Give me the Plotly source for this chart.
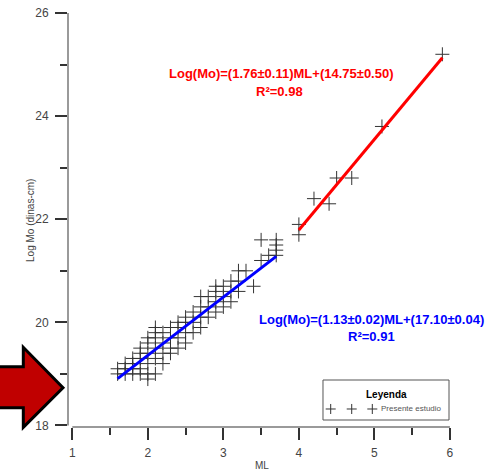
import plotly.graph_objects as go

# ---- data ----
cluster_ml = {
    1.6: [19.0, 19.1],
    1.7: [19.0, 19.1, 19.2],
    1.8: [19.0, 19.1, 19.2, 19.3],
    1.9: [19.0, 19.1, 19.3, 19.4, 19.5],
    2.0: [18.9, 19.0, 19.2, 19.4, 19.6, 19.7],
    2.1: [19.0, 19.3, 19.5, 19.7, 19.8, 19.9],
    2.2: [19.2, 19.4, 19.6, 19.8],
    2.3: [19.4, 19.5, 19.7, 19.9],
    2.4: [19.5, 19.7, 19.9, 20.0],
    2.5: [19.6, 19.8, 20.0, 20.1],
    2.6: [19.8, 20.0, 20.2],
    2.7: [19.9, 20.1, 20.3, 20.5],
    2.8: [20.1, 20.3, 20.5],
    2.9: [20.2, 20.4, 20.6, 20.7],
    3.0: [20.3, 20.5, 20.7],
    3.1: [20.4, 20.6, 20.8],
    3.2: [20.6, 20.8, 21.0],
    3.3: [21.0],
    3.4: [20.7],
    3.5: [21.2, 21.6],
    3.6: [21.3],
    3.7: [21.3, 21.4, 21.5, 21.6],
}
ml_low = [m for m, ys in cluster_ml.items() for _ in ys]
mo_low = [y for ys in cluster_ml.values() for y in ys]

ml_high = [4.0, 4.0, 4.2, 4.4, 4.5, 4.7, 5.1, 5.9]
mo_high = [21.9, 21.7, 22.4, 22.3, 22.8, 22.8, 23.8, 25.2]

fit_low = dict(slope=1.13, intercept=17.10, xr=[1.6, 3.7])
fit_high = dict(slope=1.76, intercept=14.75, xr=[4.0, 5.9])

x_ticks = [1, 2, 3, 4, 5, 6]
y_ticks = [18, 20, 22, 24, 26]

AX = "#9a9a9a"
TK = "#333333"
LBL = "#444444"
SANS = "Liberation Sans, Arial, sans-serif"

fig = go.Figure()
cross = dict(symbol="cross-thin", size=10, color="#333333",
             line=dict(color="#333333", width=1))
all_x = ml_low + ml_high
all_y = mo_low + mo_high
fig.add_trace(go.Scatter(x=all_x, y=all_y, mode="markers", marker=cross,
                         showlegend=False, cliponaxis=False))

for fit, col in [(fit_low, "#0000FF"), (fit_high, "#FF0000")]:
    xs = fit["xr"]
    ys = [fit["slope"] * v + fit["intercept"] for v in xs]
    fig.add_trace(go.Scatter(x=xs, y=ys, mode="lines",
                             line=dict(color=col, width=3), showlegend=False))

shapes = []
# axis lines (offset style)
shapes.append(dict(type="line", xref="x", yref="paper", x0=1, x1=6, y0=0, y1=0,
                   line=dict(color=AX, width=2)))
shapes.append(dict(type="line", xref="paper", yref="y", x0=0, x1=0, y0=18, y1=26,
                   line=dict(color=AX, width=2)))
# red arrow on the left
arrow = ("M -0.1911 0.1457 L -0.1170 0.1457 L -0.1170 0.1925 L -0.0131 0.0949 "
         "L -0.1170 -0.0007 L -0.1170 0.0466 L -0.1911 0.0466 Z")
shapes.append(dict(type="path", xref="paper", yref="paper", path=arrow,
                   fillcolor="#C00000", line=dict(color="black", width=3)))
# legend box
shapes.append(dict(type="rect", xref="paper", yref="paper", x0=0.6675, x1=0.9974,
                   y0=0.0169, y1=0.1135, fillcolor="white",
                   line=dict(color="#555555", width=1)))
for cx in [0.6877, 0.7427, 0.7966]:
    cy = 0.0435
    dx, dy = 0.0131, 0.0121
    shapes.append(dict(type="line", xref="paper", yref="paper", x0=cx - dx, x1=cx + dx,
                       y0=cy, y1=cy, line=dict(color="#333333", width=1)))
    shapes.append(dict(type="line", xref="paper", yref="paper", x0=cx, x1=cx,
                       y0=cy - dy, y1=cy + dy, line=dict(color="#333333", width=1)))

annotations = [
    dict(text="Log(Mo)=(1.76±0.11)ML+(14.75±0.50)", x=0.5576, y=0.8543,
         font=dict(color="#FF0000", size=13, family=SANS, weight="bold")),
    dict(text="R²=0.98", x=0.5524, y=0.8099,
         font=dict(color="#FF0000", size=13, family=SANS, weight="bold")),
    dict(text="Log(Mo)=(1.13±0.02)ML+(17.10±0.04)", x=0.7958, y=0.2601,
         font=dict(color="#0000FF", size=13, family=SANS, weight="bold")),
    dict(text="R²=0.91", x=0.7958, y=0.2181,
         font=dict(color="#0000FF", size=13, family=SANS, weight="bold")),
    dict(text="Leyenda", x=0.8325, y=0.0797,
         font=dict(color="black", size=10, family=SANS, weight="bold")),
    dict(text="Presente estudio", x=0.8141, y=0.0435, xanchor="left",
         font=dict(color="#555555", size=8, family=SANS)),
    # axis titles
    dict(text="ML", x=0.5079, y=-0.0918,
         font=dict(color=LBL, size=10, family=SANS)),
    dict(text="Log Mo (dinas-cm)", x=-0.0995, y=0.5, textangle=-90,
         font=dict(color=LBL, size=10, family=SANS)),
]
for a in annotations:
    a.update(xref="paper", yref="paper", showarrow=False)
    a.setdefault("xanchor", "center")
    a["yanchor"] = "middle"

fig.update_layout(
    width=488, height=476,
    margin=dict(l=68, r=38, t=13, b=49),
    paper_bgcolor="white", plot_bgcolor="white",
    font=dict(family=SANS, color=LBL, size=12),
    shapes=shapes, annotations=annotations,
    xaxis=dict(range=[0.943, 6.001], tickvals=x_ticks, showgrid=False, zeroline=False,
               showline=False, ticks="outside", ticklen=12, tickwidth=1.5, tickcolor=TK,
               tickfont=dict(size=12, color=LBL), automargin=False, ticklabelstandoff=3,
               minor=dict(ticks="outside", ticklen=7, tickwidth=1.5, tickcolor=TK, dtick=0.5,
                          tick0=0, showgrid=False)),
    yaxis=dict(range=[17.97, 26.001], tickvals=y_ticks, showgrid=False, zeroline=False,
               showline=False, ticks="outside", ticklen=12, tickwidth=1.5, tickcolor=TK,
               tickfont=dict(size=12, color=LBL), automargin=False, ticklabelstandoff=4,
               minor=dict(ticks="outside", ticklen=7, tickwidth=1.5, tickcolor=TK, dtick=1,
                          tick0=0, showgrid=False)),
)

fig.write_html("out.html")
